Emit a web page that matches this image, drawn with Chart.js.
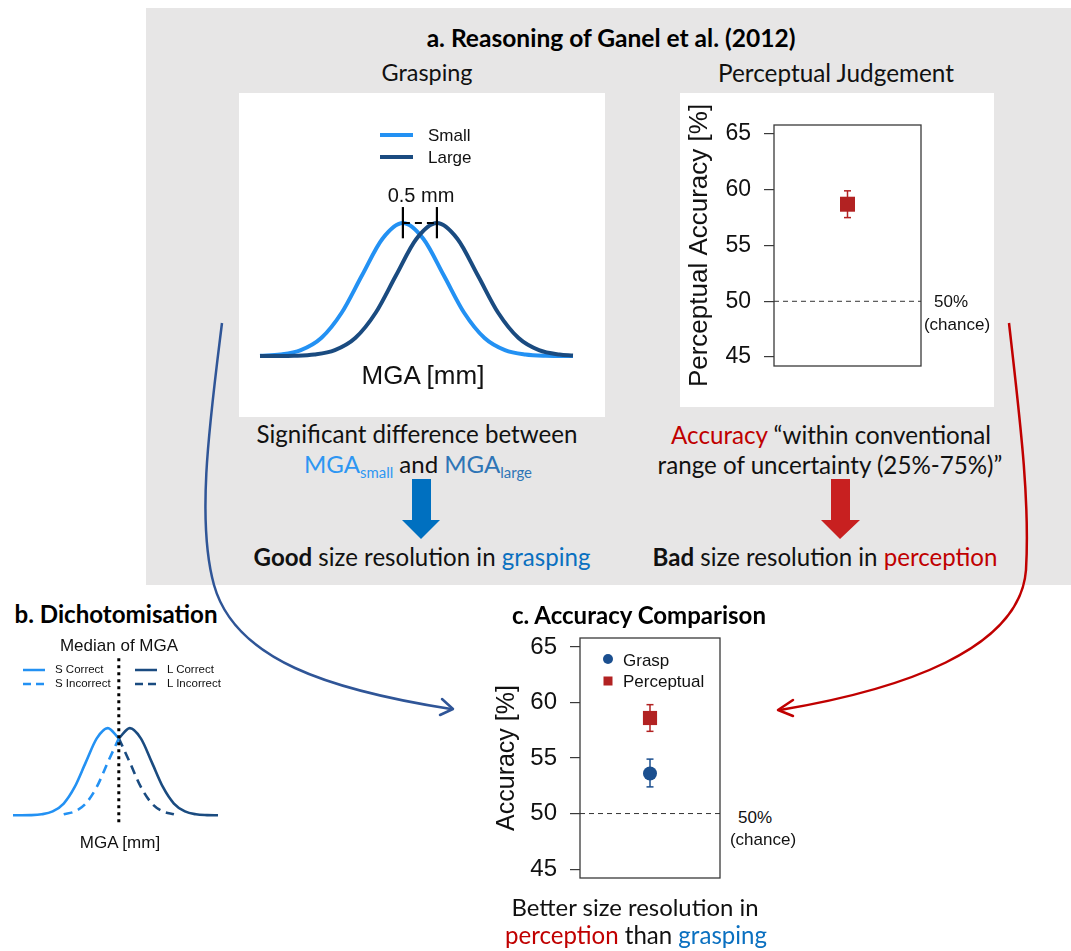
<!DOCTYPE html>
<html>
<head>
<meta charset="utf-8">
<title>Grasping vs perception</title>
<script src="https://cdn.jsdelivr.net/npm/chart.js@4.4.0/dist/chart.umd.min.js"></script>
<style>
    body { margin: 0; width: 1071px; height: 951px; position: relative; overflow: hidden; background: #fff; font-family: Lato, sans-serif; color: #111; }
    .panel { position: absolute; left: 146px; top: 8px; width: 925px; height: 577px; background: #e7e6e6; }
    .box { position: absolute; background: #fff; }
    canvas { position: absolute; }
    .t { position: absolute; white-space: nowrap; line-height: 1; transform: translate(-50%, -50%); }
    .l { transform: translate(0, -50%); }
    .ar { font-family: 'Liberation Sans', Arial, sans-serif; color: #111; }
    .sub { font-size: 0.62em; position: relative; top: 0.32em; }
    #overlay { position: absolute; left: 0; top: 0; pointer-events: none; }
</style>
</head>
<body>
<div class="panel"></div>
<div class="box" style="left:239px;top:93px;width:366px;height:324px"></div>
<div class="box" style="left:680px;top:93px;width:314px;height:314px"></div>

<canvas id="graspChart" width="366" height="324" style="left:239px;top:93px"></canvas>
<canvas id="percChart" width="314" height="314" style="left:680px;top:93px"></canvas>
<canvas id="dichoChart" width="240" height="200" style="left:0px;top:640px"></canvas>
<canvas id="compChart" width="250" height="310" style="left:480px;top:605px"></canvas>

<!-- panel a -->
<div class="t" data-w="369" style="left:611px;top:38px;font-size:21px;font-weight:700;color:#000">a. Reasoning of Ganel et al. (2012)</div>
<div class="t" data-w="91" style="left:427px;top:73px;font-size:21px">Grasping</div>
<div class="t" data-w="236" style="left:836px;top:73px;font-size:21px">Perceptual Judgement</div>

<div class="t ar l" style="left:428px;top:135px;font-size:17px">Small</div>
<div class="t ar l" style="left:428px;top:157px;font-size:17px">Large</div>
<div class="t ar" style="left:421px;top:195px;font-size:20px">0.5 mm</div>
<div class="t ar" style="left:423px;top:375px;font-size:26px">MGA [mm]</div>

<div class="t ar" style="left:951px;top:301px;font-size:17px">50%</div>
<div class="t ar" style="left:957px;top:324px;font-size:17px">(chance)</div>

<div class="t" data-w="321" style="left:417px;top:434px;font-size:22px">Significant difference between</div>
<div class="t" data-w="228" style="left:418px;top:464px;font-size:22px"><span style="color:#2e96f2">MGA<span class="sub">small</span></span> and <span style="color:#2e75b6">MGA<span class="sub">large</span></span></div>
<div class="t" data-w="337" style="left:422px;top:557px;font-size:22px"><b>Good</b> size resolution in <span style="color:#0a70c0">grasping</span></div>

<div class="t" data-w="320" style="left:831px;top:435px;font-size:22px"><span style="color:#c00000">Accuracy</span> “within conventional</div>
<div class="t" data-w="345" style="left:830px;top:465px;font-size:22px">range of uncertainty (25%-75%)”</div>
<div class="t" data-w="345" style="left:825px;top:557px;font-size:22px"><b>Bad</b> size resolution in <span style="color:#c00000">perception</span></div>

<!-- panel b -->
<div class="t" data-w="203" style="left:116px;top:614px;font-size:21px;font-weight:700;color:#000">b. Dichotomisation</div>
<div class="t ar" style="left:119px;top:645px;font-size:17px">Median of MGA</div>
<div class="t ar l" style="left:55px;top:670px;font-size:11.5px">S Correct</div>
<div class="t ar l" style="left:55px;top:684px;font-size:11.5px">S Incorrect</div>
<div class="t ar l" style="left:167px;top:670px;font-size:11.5px">L Correct</div>
<div class="t ar l" style="left:167px;top:684px;font-size:11.5px">L Incorrect</div>
<div class="t ar" style="left:120px;top:842px;font-size:17px">MGA [mm]</div>

<!-- panel c -->
<div class="t" data-w="254" style="left:639px;top:615px;font-size:21px;font-weight:700;color:#000">c. Accuracy Comparison</div>
<div class="t ar l" style="left:623px;top:660px;font-size:17px">Grasp</div>
<div class="t ar l" style="left:623px;top:681px;font-size:17px">Perceptual</div>
<div class="t ar" style="left:755px;top:817px;font-size:17px">50%</div>
<div class="t ar" style="left:763px;top:839px;font-size:17px">(chance)</div>
<div class="t" data-w="247" style="left:635px;top:907px;font-size:22px">Better size resolution in</div>
<div class="t" data-w="262" style="left:636px;top:935px;font-size:22px"><span style="color:#c00000">perception</span> than <span style="color:#0a70c0">grasping</span></div>

<svg id="overlay" width="1071" height="951">
    <!-- legend samples -->
    <line x1="380" y1="135" x2="413" y2="135" stroke="#2391f3" stroke-width="4"/>
    <line x1="380" y1="157" x2="413" y2="157" stroke="#1a4b80" stroke-width="4"/>
    <line x1="23" y1="670" x2="45" y2="670" stroke="#2391f3" stroke-width="2.5"/>
    <line x1="23" y1="684" x2="45" y2="684" stroke="#2391f3" stroke-width="2.5" stroke-dasharray="8 5"/>
    <line x1="135" y1="670" x2="157" y2="670" stroke="#1a4b80" stroke-width="2.5"/>
    <line x1="135" y1="684" x2="157" y2="684" stroke="#1a4b80" stroke-width="2.5" stroke-dasharray="8 5"/>
    <circle cx="608" cy="659" r="5" fill="#1b4f8f"/>
    <rect x="603.5" y="676.5" width="9" height="9" fill="#b22222"/>
    <!-- block arrows -->
    <polygon points="412,479 431,479 431,520 440,520 421,539 402,520 412,520" fill="#0070c0"/>
    <polygon points="831,479 850,479 850,520 860,520 840,539 821,520 831,520" fill="#c82020"/>
    <!-- curved arrows -->
    <path d="M222,323 C210,420 196,520 214,585 C235,660 330,690 451,709" fill="none" stroke="#2f5597" stroke-width="2.5"/>
    <polyline points="442,699 453,709 440,715" fill="none" stroke="#2f5597" stroke-width="2.5" stroke-linecap="round" stroke-linejoin="round"/>
    <path d="M1009,323 C1020,420 1030,500 1026,570 C1020,650 900,690 780,710" fill="none" stroke="#c00000" stroke-width="2.5"/>
    <polyline points="793,700 778,710 793,716" fill="none" stroke="#c00000" stroke-width="2.5" stroke-linecap="round" stroke-linejoin="round"/>
</svg>

<script>
// a. grasping: MGA distributions (peak = 1)
const graspSmallX = [57.9, 58.2, 58.5, 58.8, 59.1, 59.4, 59.7, 60.0, 60.3, 60.6, 60.9, 61.2, 61.5, 61.8, 62.1, 62.5];
const graspSmallY = [0.002, 0.011, 0.044, 0.135, 0.325, 0.607, 0.882, 1, 0.882, 0.607, 0.325, 0.135, 0.044, 0.011, 0.002, 0];
const graspLargeX = [57.9, 58.1, 58.4, 58.7, 59.0, 59.3, 59.6, 59.9, 60.2, 60.5, 60.8, 61.1, 61.4, 61.7, 62.0, 62.3, 62.5];
const graspLargeY = [0, 0.0003, 0.002, 0.011, 0.044, 0.135, 0.325, 0.607, 0.882, 1, 0.882, 0.607, 0.325, 0.135, 0.044, 0.011, 0.004];
const diffMarkX = [60.0, 60.5];

// a. perceptual judgement
const percMean = 58.7;
const percLow = 57.5;
const percHigh = 59.9;
const accTicks = [45, 50, 55, 60, 65];
const chanceLevel = 50;

// b. dichotomisation
const dichoSCorrectX = [-4.3, -3.5, -3.0, -2.5, -2.0, -1.5, -1.0, -0.5, 0.0, 0.5];
const dichoSCorrectY = [0, 0.002, 0.011, 0.044, 0.135, 0.325, 0.607, 0.882, 1, 0.882];
const dichoLCorrectX = [0.5, 1.0, 1.5, 2.0, 2.5, 3.0, 3.5, 4.0, 4.5, 5.0];
const dichoLCorrectY = [0.882, 1, 0.882, 0.607, 0.325, 0.135, 0.044, 0.011, 0.002, 0];
const dichoSIncorrectX = [-2.0, -1.5, -1.0, -0.5, 0.0, 0.5];
const dichoSIncorrectY = [0.011, 0.044, 0.135, 0.325, 0.607, 0.882];
const dichoLIncorrectX = [0.5, 1.0, 1.5, 2.0, 2.5, 3.0];
const dichoLIncorrectY = [0.882, 0.607, 0.325, 0.135, 0.044, 0.011];
const medianX = 0.5;

// c. accuracy comparison
const compLabels = ['Grasp', 'Perceptual'];
const compMean = [53.6, 58.6];
const compLow = [52.4, 57.4];
const compHigh = [54.9, 59.8];

const lightBlue = '#2391f3';
const darkBlue = '#1a4b80';
const red = '#b22222';
const arial = "'Liberation Sans', Arial, sans-serif";

// fit the Calibri-like text lines to the widths in the figure
document.querySelectorAll('[data-w]').forEach(el => {
    const w = el.getBoundingClientRect().width;
    const fs = parseFloat(getComputedStyle(el).fontSize);
    el.style.fontSize = (fs * el.dataset.w / w).toFixed(2) + 'px';
});

function curve(xs, ys, color, width, dash) {
    return {
        data: xs.map((x, i) => ({ x: x, y: ys[i] })),
        showLine: true,
        borderColor: color,
        borderWidth: width,
        borderDash: dash || [],
        pointRadius: 0,
        cubicInterpolationMode: 'monotone',
        clip: false
    };
}

function segment(x1, y1, x2, y2, color, width, dash) {
    return {
        data: [{ x: x1, y: y1 }, { x: x2, y: y2 }],
        showLine: true,
        borderColor: color,
        borderWidth: width,
        borderDash: dash || [],
        pointRadius: 0,
        clip: false
    };
}

// error bar with caps
function errorBar(x, lo, hi, color) {
    return {
        data: [{ x: x, y: lo }, { x: x, y: hi }],
        showLine: true,
        borderColor: color,
        borderWidth: 1.5,
        pointStyle: 'line',
        pointRadius: 3.5,
        pointBorderWidth: 1.5,
        pointBorderColor: color,
        clip: false
    };
}

function marker(x, y, style, radius, color) {
    return {
        data: [{ x: x, y: y }],
        pointStyle: style,
        pointRadius: radius,
        pointBackgroundColor: color,
        pointBorderColor: color,
        pointBorderWidth: 0,
        clip: false
    };
}

function hiddenScales(xMin, xMax, yMin, yMax) {
    return {
        x: { type: 'linear', min: xMin, max: xMax, display: false },
        y: { type: 'linear', min: yMin, max: yMax, display: false }
    };
}

const framePlugin = {
    id: 'frame',
    beforeDatasetsDraw(chart) {
        const a = chart.chartArea;
        const ctx = chart.ctx;
        ctx.save();
        ctx.strokeStyle = '#3a3a3a';
        ctx.lineWidth = 1.3;
        ctx.strokeRect(a.left, a.top, a.right - a.left, a.bottom - a.top);
        ctx.restore();
    }
};

function accuracyOptions(title, titleSize, titlePad, tickSize, axisWidth, padding) {
    return {
        responsive: false,
        animation: false,
        layout: { padding: padding },
        plugins: { legend: { display: false }, tooltip: { enabled: false } },
        scales: {
            x: { type: 'linear', min: 0, max: 2, display: false },
            y: {
                type: 'linear',
                min: 44.2,
                max: 65.8,
                afterBuildTicks: s => { s.ticks = accTicks.map(v => ({ value: v })); },
                afterFit: s => { s.width = axisWidth; },
                grid: { drawOnChartArea: false, drawTicks: true, tickLength: 10, color: '#3a3a3a', lineWidth: 1.2 },
                border: { display: false },
                ticks: { padding: 13, color: '#111', font: { family: arial, size: tickSize } },
                title: {
                    display: true,
                    text: title,
                    color: '#111',
                    font: { family: arial, size: titleSize },
                    padding: { top: titlePad, bottom: 0 }
                }
            }
        }
    };
}

const baseOpts = {
    responsive: false,
    animation: false,
    plugins: { legend: { display: false }, tooltip: { enabled: false } }
};

// a. grasping
new Chart(document.getElementById('graspChart'), {
    type: 'scatter',
    data: {
        datasets: [
            curve(graspLargeX, graspLargeY, darkBlue, 4),
            curve(graspSmallX, graspSmallY, lightBlue, 4),
            segment(diffMarkX[0], 0.885, diffMarkX[0], 1.12, '#000', 2.2),
            segment(diffMarkX[1], 0.885, diffMarkX[1], 1.12, '#000', 2.2),
            segment(diffMarkX[0], 1.0, diffMarkX[1], 1.0, '#000', 1.8, [7, 5])
        ].map((d, i) => Object.assign(d, { order: [2, 3, 0, 0, 1][i] }))
    },
    options: Object.assign({}, baseOpts, {
        layout: { padding: { left: 21, right: 32, top: 130, bottom: 61 } },
        scales: hiddenScales(57.9, 62.5, 0, 1)
    })
});

// a. perceptual judgement
new Chart(document.getElementById('percChart'), {
    type: 'scatter',
    data: {
        datasets: [
            marker(1, percMean, 'rect', 10.6, red),
            errorBar(1, percLow, percHigh, red),
            segment(0, chanceLevel, 2, chanceLevel, '#333', 1, [5, 4])
        ]
    },
    options: accuracyOptions('Perceptual Accuracy [%]', 26, 4, 23, 94,
        { left: 0, right: 73, top: 32, bottom: 41 }),
    plugins: [framePlugin]
});

// b. dichotomisation
new Chart(document.getElementById('dichoChart'), {
    type: 'scatter',
    data: {
        datasets: [
            segment(medianX, -0.08, medianX, 1.8, '#000', 3, [3, 4]),
            curve(dichoSCorrectX, dichoSCorrectY, lightBlue, 2.6),
            curve(dichoLCorrectX, dichoLCorrectY, darkBlue, 2.6),
            curve(dichoSIncorrectX, dichoSIncorrectY, lightBlue, 2.6, [9, 6]),
            curve(dichoLIncorrectX, dichoLIncorrectY, darkBlue, 2.6, [9, 6])
        ]
    },
    options: Object.assign({}, baseOpts, {
        layout: { padding: { left: 13, right: 22, top: 14, bottom: 16 } },
        scales: hiddenScales(-4.3, 5.0, -0.1, 1.85)
    })
});

// c. accuracy comparison
const compStyles = [['circle', 7, '#1b4f8f'], ['rect', 10, red]];
const compSets = [];
compLabels.forEach((name, i) => {
    const [style, radius, color] = compStyles[i];
    compSets.push(Object.assign(marker(1, compMean[i], style, radius, color), { label: name }));
    compSets.push(errorBar(1, compLow[i], compHigh[i], color));
});
compSets.push(segment(0, chanceLevel, 2, chanceLevel, '#333', 1, [5, 4]));

new Chart(document.getElementById('compChart'), {
    type: 'scatter',
    data: { datasets: compSets },
    options: accuracyOptions('Accuracy [%]', 25, 12, 24, 100,
        { left: 0, right: 4, top: 33, bottom: 37 }),
    plugins: [framePlugin]
});
</script>
</body>
</html>
